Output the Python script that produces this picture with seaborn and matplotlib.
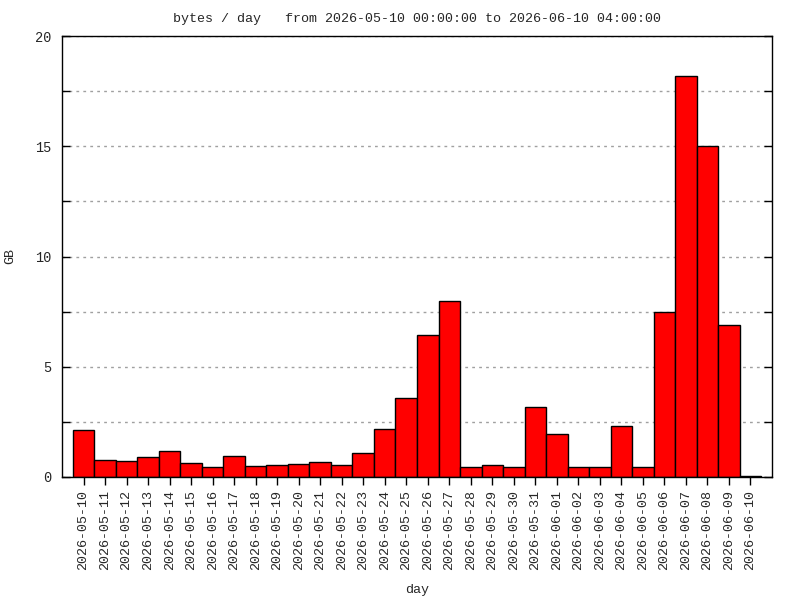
import seaborn as sns
import matplotlib
matplotlib.use('Agg')
from matplotlib import pyplot as plt
from matplotlib.ticker import MultipleLocator

"""
Data
"""
days = ['2026-05-10', '2026-05-11', '2026-05-12', '2026-05-13', '2026-05-14',
        '2026-05-15', '2026-05-16', '2026-05-17', '2026-05-18', '2026-05-19',
        '2026-05-20', '2026-05-21', '2026-05-22', '2026-05-23', '2026-05-24',
        '2026-05-25', '2026-05-26', '2026-05-27', '2026-05-28', '2026-05-29',
        '2026-05-30', '2026-05-31', '2026-06-01', '2026-06-02', '2026-06-03',
        '2026-06-04', '2026-06-05', '2026-06-06', '2026-06-07', '2026-06-08',
        '2026-06-09', '2026-06-10']
gb = [2.12, 0.76, 0.71, 0.89, 1.17, 0.62, 0.44, 0.94, 0.49, 0.53,
      0.58, 0.67, 0.53, 1.08, 2.17, 3.58, 6.44, 7.99, 0.44, 0.53,
      0.44, 3.17, 1.94, 0.44, 0.44, 2.30, 0.44, 7.49, 18.18, 15.03,
      6.89, 0.03]
title = 'bytes / day   from 2026-05-10 00:00:00 to 2026-06-10 04:00:00'

"""
Plot
"""
sns.set_style('white')
plt.rcParams['font.family'] = ['Liberation Mono', 'DejaVu Sans Mono']
plt.rcParams['font.size'] = 9.6

fig = plt.figure(figsize=(8, 6), dpi=100)
ax = fig.add_axes([62 / 800, 123 / 600, 710 / 800, 441 / 600])
sns.barplot(x=days, y=gb, color='red', saturation=1, width=1,
            edgecolor='black', linewidth=1, ax=ax, zorder=2)
ax.set_xlim(-1, 32)
ax.set_ylim(0, 20)
ax.yaxis.set_major_locator(MultipleLocator(5))
ax.yaxis.set_minor_locator(MultipleLocator(2.5))
ax.grid(True, axis='y', which='both', linestyle=(0, (2, 3)),
        color='#a0a0a0', linewidth=1, zorder=0)
ax.set_axisbelow(True)
ax.tick_params(axis='y', which='both', direction='in', length=6, width=1,
               left=True, right=True, pad=8, color='black', labelsize=9.8)
ax.tick_params(axis='x', direction='out', length=6, width=1,
               bottom=True, top=False, pad=3, color='black', rotation=90,
               labelsize=9.6)
for s in ax.spines.values():
    s.set_color('black')
    s.set_linewidth(1)
ax.set_xlabel('day', fontsize=9.6)
ax.xaxis.set_label_coords(0.5, -0.243)
ax.set_ylabel('GB', fontsize=9.6)
ax.yaxis.set_label_coords(-0.065, 0.5)
ax.set_title(title, fontsize=9.6, pad=10)
plt.savefig('out.png', dpi=100)
